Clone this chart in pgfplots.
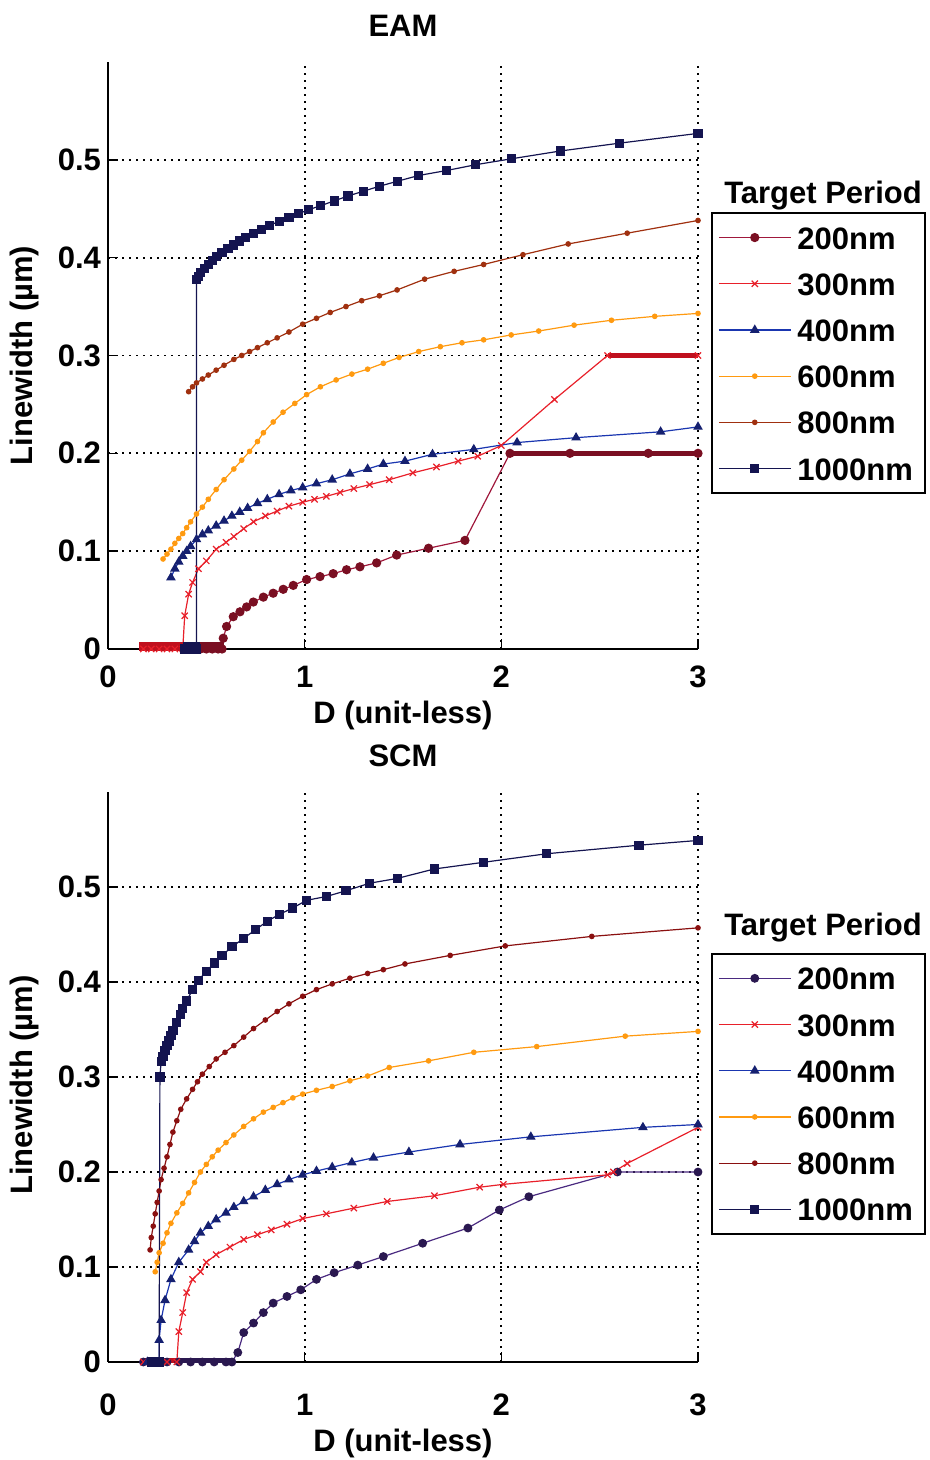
\documentclass[border=0pt]{standalone}
\usepackage{pgfplots}
\pgfplotsset{compat=1.18}
\usepackage{fontspec}
\setmainfont{Liberation Sans}
\definecolor{cMaroon}{HTML}{7A0F22}
\definecolor{cMaroonL}{HTML}{A0183C}
\definecolor{cRed}{HTML}{E8202A}
\definecolor{cBarRed}{HTML}{C0101E}
\definecolor{cBlue}{HTML}{1A36B0}
\definecolor{cNavyM}{HTML}{152070}
\definecolor{cOrange}{HTML}{FF9A10}
\definecolor{cBrown}{HTML}{A0300F}
\definecolor{cNavy}{HTML}{141450}
\definecolor{cPurple}{HTML}{4A2A80}
\definecolor{cPurpleD}{HTML}{2A1850}
\definecolor{cDRed}{HTML}{8A1010}
\newcommand{\ff}{\fontsize{15.5}{18}\selectfont\bfseries}
\begin{document}
\begin{tikzpicture}
\useasboundingbox (0,0) rectangle (465pt,730pt);
\pgfplotsset{
 common/.style={
  scale only axis, width=295pt, clip=false,
  xmin=0,xmax=3,ymin=0,ymax=0.6,
  axis x line*=bottom, axis y line*=left,
  axis line style={black, line width=1pt},
  xtick={0,1,2,3}, ytick={0,0.1,0.2,0.3,0.4,0.5},
  grid=major, major grid style={black, line width=0.9pt, dash pattern=on 0.9pt off 2.6pt},
  tick align=inside, major tick length=5pt, tick style={black, line width=0.8pt},
  /pgf/number format/assume math mode=true,
  ticklabel style={font=\ff},
  yticklabel style={/pgf/number format/fixed, /pgf/number format/precision=1},
  label style={font=\ff},
  title style={font=\ff},
  every axis plot/.append style={line width=0.6pt},
  legend style={draw=black, line width=0.8pt, font=\ff, anchor=north west,
    inner xsep=3.2pt, inner ysep=4.5pt, row sep=7.6pt,
    nodes={inner xsep=3pt, inner ysep=2pt, text height=11.5pt, text depth=0pt}},
  legend cell align=left,
  legend image code/.code={\draw[mark repeat=2,mark phase=2] plot coordinates {(0pt,0pt) (18pt,0pt) (36pt,0pt)};},
 }
}
% ================= EAM =================
\begin{axis}[common, name=top, at={(54pt,405.5pt)}, anchor=south west, height=293.5pt,
  title={EAM}, title style={at={(axis description cs:0.5,1.041)}, anchor=center},
  xlabel={D (unit-less)}, xlabel style={at={(axis description cs:0.5,-0.113)}, anchor=center},
  ylabel={Linewidth (µm)}, ylabel style={at={(axis description cs:-0.1407,0.5)}, anchor=center},
  xticklabel style={anchor=base, yshift=-19.5pt},
  legend style={at={(axis description cs:1.022,0.744)}}]
\addplot[cMaroonL, mark=*, mark size=2pt, mark options={fill=cMaroon, draw=cMaroon}] coordinates {
(0.47,0)(0.50,0)(0.53,0)(0.56,0)(0.58,0)
(0.586,0.011)(0.603,0.023)(0.637,0.033)(0.671,0.038)(0.705,0.043)(0.739,0.048)(0.79,0.053)(0.84,0.057)(0.891,0.061)(0.942,0.065)(1.01,0.071)(1.078,0.074)(1.145,0.077)(1.213,0.081)(1.281,0.084)(1.366,0.088)(1.468,0.096)(1.63,0.103)(1.815,0.111)(2.044,0.2)(2.349,0.2)(2.747,0.2)(3.0,0.2)};
\addlegendentry{200nm}
\addplot[cRed, mark=x, mark size=2.2pt] coordinates {
(0.18,0)(0.22,0)(0.26,0)(0.30,0)(0.34,0)(0.38,0)
(0.39,0.034)(0.41,0.056)(0.43,0.068)(0.46,0.082)(0.50,0.09)(0.55,0.102)(0.60,0.109)(0.64,0.115)(0.69,0.123)(0.74,0.13)(0.80,0.136)(0.86,0.141)(0.92,0.146)(0.99,0.15)(1.05,0.153)(1.11,0.156)(1.18,0.160)(1.25,0.164)(1.33,0.168)(1.43,0.173)(1.55,0.18)(1.67,0.186)(1.78,0.192)(1.88,0.197)(2.0,0.208)(2.27,0.255)(2.54,0.3)(3.0,0.3)};
\addlegendentry{300nm}
\addplot[cBlue, mark=triangle*, mark size=2.2pt, mark options={fill=cNavyM, draw=cNavyM}] coordinates {
(0.32,0.073)(0.34,0.082)(0.36,0.089)(0.38,0.095)(0.40,0.1)(0.42,0.105)(0.45,0.112)(0.48,0.117)(0.51,0.121)(0.55,0.126)(0.59,0.131)(0.63,0.136)(0.67,0.14)(0.71,0.144)(0.76,0.149)(0.81,0.153)(0.87,0.158)(0.93,0.162)(0.99,0.165)(1.06,0.169)(1.14,0.173)(1.23,0.179)(1.32,0.184)(1.40,0.189)(1.51,0.192)(1.65,0.199)(1.86,0.204)(2.08,0.211)(2.38,0.216)(2.81,0.222)(3.0,0.227)};
\addlegendentry{400nm}
\addplot[cOrange, mark=*, mark size=1.1pt] coordinates {
(0.28,0.092)(0.30,0.097)(0.32,0.102)(0.34,0.108)(0.36,0.113)(0.38,0.118)(0.40,0.124)(0.42,0.13)(0.45,0.138)(0.48,0.145)(0.51,0.153)(0.55,0.163)(0.59,0.173)(0.64,0.184)(0.68,0.193)(0.72,0.202)(0.76,0.212)(0.79,0.221)(0.84,0.232)(0.89,0.242)(0.95,0.251)(1.01,0.26)(1.08,0.268)(1.16,0.275)(1.24,0.281)(1.32,0.286)(1.40,0.292)(1.48,0.298)(1.58,0.304)(1.69,0.309)(1.80,0.313)(1.91,0.316)(2.05,0.321)(2.19,0.325)(2.37,0.331)(2.56,0.336)(2.78,0.34)(3.0,0.343)};
\addlegendentry{600nm}
\addplot[cBrown, mark=*, mark size=1.1pt] coordinates {
(0.41,0.263)(0.43,0.268)(0.45,0.272)(0.48,0.276)(0.51,0.28)(0.55,0.285)(0.59,0.29)(0.64,0.296)(0.68,0.3)(0.72,0.304)(0.76,0.308)(0.81,0.313)(0.86,0.318)(0.92,0.324)(0.99,0.332)(1.06,0.338)(1.13,0.344)(1.21,0.35)(1.29,0.356)(1.38,0.361)(1.47,0.367)(1.61,0.378)(1.76,0.386)(1.91,0.393)(2.11,0.403)(2.34,0.414)(2.64,0.425)(3.0,0.438)};
\addlegendentry{800nm}
\addplot[cNavy, mark=square*, mark size=2pt] coordinates {
(0.39,0)(0.42,0)(0.45,0)
(0.45,0.378)(0.46,0.381)(0.47,0.385)(0.49,0.389)(0.51,0.393)(0.53,0.397)(0.55,0.401)(0.58,0.405)(0.61,0.409)(0.64,0.413)(0.67,0.417)(0.70,0.421)(0.74,0.425)(0.78,0.429)(0.82,0.433)(0.87,0.437)(0.92,0.441)(0.97,0.445)(1.02,0.449)(1.08,0.453)(1.15,0.458)(1.22,0.463)(1.30,0.468)(1.38,0.473)(1.47,0.478)(1.58,0.484)(1.72,0.489)(1.87,0.495)(2.05,0.501)(2.3,0.509)(2.6,0.517)(3.0,0.527)};
\addlegendentry{1000nm}
\addplot[cMaroon, line width=2.2pt, forget plot] coordinates {(2.044,0.2)(3.0,0.2)};
\addplot[cBarRed, line width=2.2pt, forget plot] coordinates {(2.54,0.3)(3.0,0.3)};
\addplot[cBarRed, line width=4.5pt, forget plot] coordinates {(0.16,0.003)(0.38,0.003)};
\addplot[cNavy, line width=4.5pt, forget plot] coordinates {(0.38,0.003)(0.47,0.003)};
\addplot[cMaroon, line width=4.5pt, forget plot] coordinates {(0.47,0.003)(0.59,0.003)};
\end{axis}
% ================= SCM =================
\begin{axis}[common, name=bot, at={(54pt,49pt)}, anchor=south west, height=285pt,
  title={SCM}, title style={at={(axis description cs:0.5,1.042)}, anchor=center},
  xlabel={D (unit-less)}, xlabel style={at={(axis description cs:0.5,-0.143)}, anchor=center},
  ylabel={Linewidth (µm)}, ylabel style={at={(axis description cs:-0.1407,0.486)}, anchor=center},
  xticklabel style={anchor=base, yshift=-27pt},
  legend style={at={(axis description cs:1.022,0.7175)}}]
\addplot[cPurple, mark=*, mark size=1.9pt, mark options={fill=cPurpleD, draw=cPurpleD}] coordinates {
(0.18,0)(0.24,0)(0.30,0)(0.36,0)(0.42,0)(0.48,0)(0.54,0)(0.60,0)(0.63,0)
(0.66,0.01)(0.69,0.031)(0.74,0.041)(0.79,0.052)(0.84,0.062)(0.91,0.069)(0.98,0.076)(1.06,0.087)(1.15,0.094)(1.27,0.102)(1.40,0.111)(1.60,0.125)(1.83,0.141)(1.99,0.16)(2.14,0.174)(2.59,0.2)(3.0,0.2)};
\addlegendentry{200nm}
\addplot[cRed, mark=x, mark size=2.2pt] coordinates {
(0.18,0)(0.22,0)(0.26,0)(0.30,0)(0.35,0)
(0.36,0.032)(0.38,0.052)(0.40,0.073)(0.43,0.087)(0.47,0.095)(0.50,0.105)(0.55,0.113)(0.62,0.121)(0.69,0.129)(0.76,0.134)(0.83,0.139)(0.91,0.145)(0.99,0.151)(1.11,0.156)(1.25,0.162)(1.42,0.169)(1.66,0.175)(1.89,0.184)(2.01,0.187)(2.54,0.197)(2.57,0.2)(2.64,0.209)(3.0,0.247)};
\addlegendentry{300nm}
\addplot[cBlue, mark=triangle*, mark size=2.2pt, mark options={fill=cNavyM, draw=cNavyM}] coordinates {
(0.20,0)(0.26,0)
(0.26,0.023)(0.27,0.044)(0.29,0.065)(0.32,0.087)(0.36,0.105)(0.41,0.118)(0.44,0.127)(0.47,0.136)(0.51,0.143)(0.55,0.15)(0.60,0.157)(0.64,0.163)(0.69,0.169)(0.74,0.174)(0.80,0.181)(0.86,0.187)(0.92,0.192)(0.99,0.197)(1.06,0.201)(1.14,0.205)(1.24,0.21)(1.35,0.215)(1.53,0.221)(1.79,0.229)(2.15,0.237)(2.72,0.247)(3.0,0.25)};
\addlegendentry{400nm}
\addplot[cOrange, mark=*, mark size=1.1pt] coordinates {
(0.24,0.095)(0.25,0.105)(0.26,0.115)(0.28,0.125)(0.30,0.136)(0.32,0.146)(0.35,0.157)(0.38,0.167)(0.41,0.178)(0.44,0.189)(0.47,0.2)(0.50,0.208)(0.53,0.216)(0.56,0.223)(0.60,0.231)(0.64,0.239)(0.69,0.248)(0.74,0.256)(0.79,0.263)(0.84,0.268)(0.89,0.273)(0.94,0.278)(0.99,0.282)(1.06,0.286)(1.14,0.29)(1.23,0.296)(1.32,0.301)(1.43,0.31)(1.63,0.317)(1.86,0.326)(2.18,0.332)(2.63,0.343)(3.0,0.348)};
\addlegendentry{600nm}
\addplot[cDRed, mark=*, mark size=1.1pt] coordinates {
(0.214,0.118)(0.22,0.131)(0.23,0.143)(0.24,0.156)(0.25,0.168)(0.26,0.18)(0.27,0.192)(0.285,0.204)(0.30,0.216)(0.315,0.229)(0.33,0.242)(0.35,0.254)(0.37,0.266)(0.40,0.277)(0.43,0.287)(0.455,0.295)(0.48,0.303)(0.515,0.311)(0.55,0.319)(0.595,0.326)(0.64,0.333)(0.69,0.342)(0.74,0.351)(0.80,0.36)(0.86,0.369)(0.92,0.377)(0.99,0.385)(1.06,0.392)(1.14,0.398)(1.23,0.404)(1.32,0.409)(1.40,0.413)(1.51,0.419)(1.74,0.428)(2.02,0.438)(2.46,0.448)(3.0,0.457)};
\addlegendentry{800nm}
\addplot[cNavy, mark=square*, mark size=2pt] coordinates {
(0.22,0)(0.26,0)
(0.264,0.3)(0.27,0.316)(0.28,0.322)(0.29,0.328)(0.30,0.333)(0.31,0.338)(0.32,0.344)(0.33,0.349)(0.35,0.357)(0.37,0.366)(0.38,0.372)(0.40,0.38)(0.43,0.392)(0.46,0.402)(0.50,0.411)(0.54,0.42)(0.58,0.428)(0.63,0.437)(0.69,0.446)(0.75,0.455)(0.81,0.464)(0.87,0.471)(0.94,0.478)(1.01,0.486)(1.11,0.49)(1.21,0.496)(1.33,0.504)(1.47,0.509)(1.66,0.519)(1.91,0.526)(2.23,0.535)(2.70,0.544)(3.0,0.549)};
\addlegendentry{1000nm}
\addplot[cPurpleD, line width=2.5pt, forget plot] coordinates {(0.35,0.002)(0.63,0.002)};
\addplot[cBarRed, line width=2.5pt, forget plot] coordinates {(0.18,0.002)(0.22,0.002)};
\addplot[cNavyM, line width=2.5pt, forget plot] coordinates {(0.22,0.002)(0.30,0.002)};
\addplot[cBarRed, line width=2.5pt, forget plot] coordinates {(0.30,0.002)(0.35,0.002)};
\end{axis}
\node[font=\ff] at (411.5pt,632pt) {Target Period};
\node[font=\ff] at (411.5pt,266pt) {Target Period};
\end{tikzpicture}
\end{document}
